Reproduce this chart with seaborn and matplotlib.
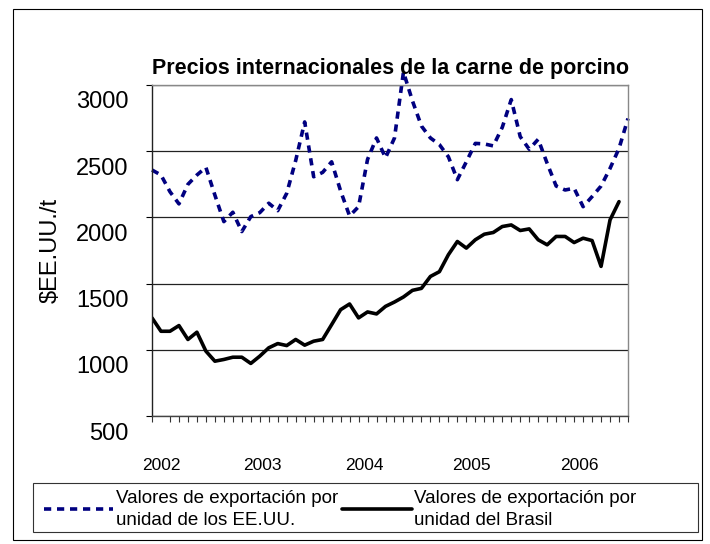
"""
Precios internacionales de la carne de porcino (EE.UU. vs Brasil)
"""

import numpy as np
import pandas as pd
import seaborn as sns
import matplotlib.pyplot as plt
import matplotlib.transforms as mtransforms
from matplotlib.patches import Rectangle

# monthly values, Jan 2002 onwards (US series one month longer)
usa = [2358, 2320, 2194, 2102, 2250, 2320, 2378, 2169, 1968, 2039,
       1893, 2006, 2036, 2107, 2051, 2182, 2430, 2721, 2307, 2340,
       2420, 2200, 2011, 2081, 2438, 2600, 2450, 2600, 3098, 2880,
       2690, 2600, 2550, 2458, 2285, 2420, 2559, 2555, 2540, 2680,
       2890, 2610, 2515, 2590, 2408, 2237, 2207, 2220, 2081, 2157,
       2237, 2370, 2521, 2747]
brasil = [1241, 1140, 1140, 1183, 1078, 1133, 990, 914, 927, 944,
          944, 897, 952, 1015, 1047, 1032, 1078, 1035, 1065, 1078,
          1190, 1303, 1346, 1241, 1286, 1271, 1328, 1361, 1399, 1449,
          1464, 1554, 1590, 1718, 1818, 1768, 1831, 1873, 1886, 1931,
          1943, 1901, 1913, 1831, 1793, 1856, 1856, 1810, 1843, 1825,
          1630, 1981, 2119]
years = ['2002', '2003', '2004', '2005', '2006']
year_pos = [1.0, 12.3, 23.7, 35.6, 47.6]
yticks = [500, 1000, 1500, 2000, 2500, 3000]

lbl_usa = 'Valores de exportación por\nunidad de los EE.UU.'
lbl_bra = 'Valores de exportación por\nunidad del Brasil'

df = pd.DataFrame({'mes': np.arange(len(usa)), 'usa': usa})
df['brasil'] = pd.Series(brasil)

sns.set_theme(style='white')
plt.rcParams['font.family'] = ['Liberation Sans', 'DejaVu Sans']
for k in ['text.color', 'axes.labelcolor', 'xtick.color', 'ytick.color']:
    plt.rcParams[k] = 'black'

fig = plt.figure(figsize=(7.1, 5.44), dpi=100)
ax = fig.add_axes([152/710, 1 - 416/544, 476/710, 331/544])

# outer chart frame and legend box
fig.patches.append(Rectangle((13/710, 1 - 540/544), 689/710, 531/544,
                             transform=fig.transFigure, fill=False,
                             edgecolor='black', linewidth=0.8))
fig.patches.append(Rectangle((33/710, 1 - 532/544), 665/710, 49/544,
                             transform=fig.transFigure, fill=False,
                             edgecolor='#333333', linewidth=0.8))

sns.lineplot(data=df, x='mes', y='usa', ax=ax, color='#000080', linewidth=2.6,
             linestyle=(0, (2.0, 1.6)), label=lbl_usa, clip_on=False)
sns.lineplot(data=df, x='mes', y='brasil', ax=ax, color='black', linewidth=2.6,
             label=lbl_bra)

ax.set_xlim(0, len(usa) - 1)
ax.set_ylim(500, 3000)
ax.set_yticks(yticks)
ax.yaxis.grid(True, color='#222222', linewidth=0.9)
ax.set_axisbelow(True)

# month tick marks, year labels
ax.set_xticks(np.arange(len(usa)), minor=True)
ax.set_xticks(year_pos)
ax.set_xticklabels(years, fontsize=12.5)
ax.tick_params(axis='x', which='major', length=0, pad=30)
ax.tick_params(axis='x', which='minor', bottom=True, length=4, width=0.8,
               color='#333333')
ax.tick_params(axis='y', left=True, length=4, width=0.8, pad=13, labelsize=17)
offset = mtransforms.ScaledTranslation(0, -15/100, fig.dpi_scale_trans)
for lab in ax.get_yticklabels():
    lab.set_transform(lab.get_transform() + offset)

ax.set_xlabel('')
ax.set_ylabel('$EE.UU./t', fontsize=17, labelpad=10)
ax.set_title('Precios internacionales de la carne de porcino',
             fontsize=15.5, fontweight='bold', pad=8)

for s in ['top', 'right']:
    ax.spines[s].set_color('#888888')
ax.spines['left'].set_color('#222222')
ax.spines['bottom'].set_color('#444444')
for s in ax.spines.values():
    s.set_linewidth(1.0)

ax.get_legend().remove()
h, l = ax.get_legend_handles_labels()
leg = fig.legend(h, l, loc='upper left', ncol=2,
                 bbox_to_anchor=(44/710, 1 - 490/544),
                 fontsize=13.5, frameon=False,
                 handlelength=3.7, handletextpad=0.15, columnspacing=0.2,
                 borderaxespad=0, borderpad=0, labelspacing=0)
for t in leg.get_texts():
    t.set_linespacing(1.35)

fig.savefig('out.png', dpi=100)
